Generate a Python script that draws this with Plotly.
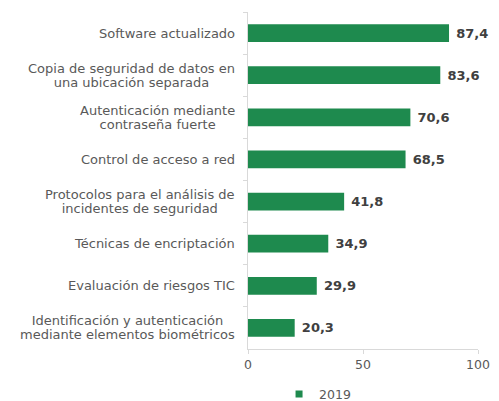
import plotly.graph_objects as go

categories = [
    "Software actualizado",
    "Copia de seguridad de datos en<br>una ubicación separada",
    "Autenticación mediante<br>contraseña fuerte",
    "Control de acceso a red",
    "Protocolos para el análisis de<br>incidentes de seguridad",
    "Técnicas de encriptación",
    "Evaluación de riesgos TIC",
    "Identificación y autenticación<br>mediante elementos biométricos",
]
values_2019 = [87.4, 83.6, 70.6, 68.5, 41.8, 34.9, 29.9, 20.3]
x_ticks = [0, 50, 100]
series_name = "2019"

GREEN = "#1e8a4e"
LABEL_GRAY = "#595959"
VALUE_GRAY = "#404040"
AXIS_GRAY = "#d9d9d9"
FONT = "DejaVu Sans, Verdana, sans-serif"

fig = go.Figure()
fig.add_trace(go.Bar(
    x=values_2019,
    y=categories,
    orientation="h",
    name=series_name,
    marker=dict(color=GREEN, line=dict(width=0)),
    width=0.42,
    texttemplate="&nbsp;<b>%{x:.1f}</b>",
    textposition="outside",
    textfont=dict(family=FONT, size=13, color=VALUE_GRAY),
    cliponaxis=False,
    showlegend=False,
))
# legend-only entry (small square marker)
fig.add_trace(go.Scatter(
    x=[None], y=[None], mode="markers", name=series_name,
    marker=dict(symbol="square", size=7, color=GREEN),
    showlegend=True,
))

for cat in categories:
    styled = "<br>".join(
        f"<span style='font-size:13px'>{line}</span>" for line in cat.split("<br>")
    )
    fig.add_annotation(
        x=-0.048, xref="paper", y=cat, yref="y",
        text=styled, showarrow=False,
        xanchor="right", yanchor="middle", align="center",
        font=dict(family=FONT, size=10.77, color=LABEL_GRAY),
    )

fig.update_layout(
    width=491, height=393,
    margin=dict(l=240, r=21, t=4, b=52, autoexpand=False),
    paper_bgcolor="white", plot_bgcolor="white",
    separators=",.",
    font=dict(family=FONT, size=12.5, color=LABEL_GRAY),
    xaxis=dict(
        range=[0, 100], tickvals=x_ticks, showgrid=False, zeroline=False,
        showline=True, linecolor=AXIS_GRAY, linewidth=1,
        ticks="outside", ticklen=4, tickcolor=AXIS_GRAY,
        tickfont=dict(family=FONT, size=12.5, color=LABEL_GRAY),
    ),
    yaxis=dict(
        autorange="reversed", showticklabels=False, showgrid=False,
        showline=True, linecolor=AXIS_GRAY, linewidth=1,
        ticks="outside", ticklen=4, tickcolor=AXIS_GRAY, tickson="boundaries",
        zeroline=False,
    ),
    legend=dict(
        orientation="h", x=0.135, xanchor="left", y=-0.135, yanchor="middle",
        font=dict(family=FONT, size=12.5, color=LABEL_GRAY),
        itemwidth=30, bgcolor="rgba(0,0,0,0)",
    ),
    bargap=0.58,
)

fig.write_html("out.html")
